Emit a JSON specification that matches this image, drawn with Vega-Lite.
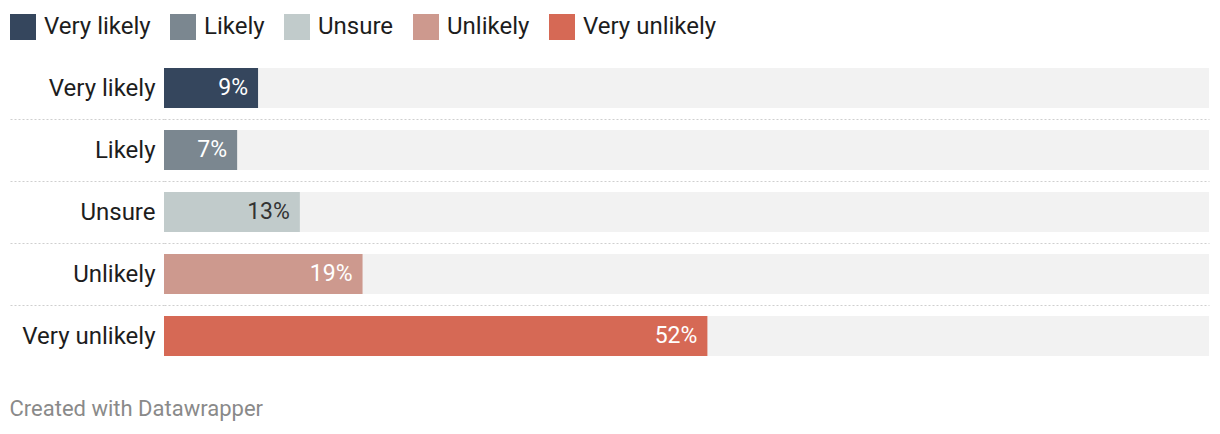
{
  "$schema": "https://vega.github.io/schema/vega-lite/v6.json",
  "width": 1045,
  "height": 310,
  "autosize": {"type": "none"},
  "padding": {"left": 164, "top": 57, "right": 11, "bottom": 67},
  "background": "white",
  "config": {
    "font": "Roboto",
    "view": {"stroke": null}
  },
  "title": {
    "text": "Created with Datawrapper",
    "orient": "bottom",
    "anchor": "start",
    "frame": "bounds",
    "offset": 32,
    "fontSize": 22,
    "fontWeight": "normal",
    "color": "#8a8a8a",
    "font": "Roboto"
  },
  "data": {
    "values": [
      {"answer": "Very likely", "pct": 9, "label": "9%"},
      {"answer": "Likely", "pct": 7, "label": "7%"},
      {"answer": "Unsure", "pct": 13, "label": "13%"},
      {"answer": "Unlikely", "pct": 19, "label": "19%"},
      {"answer": "Very unlikely", "pct": 52, "label": "52%"}
    ]
  },
  "encoding": {
    "y": {
      "field": "answer",
      "type": "nominal",
      "sort": ["Very likely", "Likely", "Unsure", "Unlikely", "Very unlikely"],
      "scale": {"paddingInner": 0.355, "paddingOuter": 0.1775},
      "axis": {
        "title": null,
        "domain": false,
        "ticks": true,
        "tickSize": 154,
        "tickColor": "#cfcfcf",
        "tickDash": [2, 2],
        "tickWidth": 1,
        "tickOffset": 31,
        "tickOpacity": {"condition": {"test": "datum.value === 'Very unlikely'", "value": 0}, "value": 1},
        "grid": true,
        "gridColor": "#cfcfcf",
        "gridDash": [2, 2],
        "gridWidth": 1,
        "gridOpacity": {"condition": {"test": "datum.value === 'Very unlikely'", "value": 0}, "value": 1},
        "labelOffset": -31,
        "labelPadding": -145,
        "labelFontSize": 24,
        "labelColor": "#1d1d1d",
        "labelFont": "Roboto",
        "labelLimit": 300
      }
    }
  },
  "layer": [
    {
      "mark": {"type": "bar", "color": "#f2f2f2"},
      "encoding": {
        "x": {"datum": 100, "type": "quantitative", "scale": {"domain": [0, 100]}, "axis": null}
      }
    },
    {
      "mark": {"type": "bar"},
      "encoding": {
        "x": {"field": "pct", "type": "quantitative", "scale": {"domain": [0, 100]}, "axis": null},
        "color": {
          "field": "answer",
          "type": "nominal",
          "scale": {
            "domain": ["Very likely", "Likely", "Unsure", "Unlikely", "Very unlikely"],
            "range": ["#35465d", "#7b8790", "#c1cbcb", "#cd998e", "#d66955"]
          },
          "legend": {
            "title": null,
            "orient": "none",
            "direction": "horizontal",
            "legendX": -154,
            "legendY": -43,
            "symbolType": "square",
            "symbolSize": 676,
            "symbolStrokeWidth": 0,
            "symbolOpacity": 1,
            "labelFontSize": 24,
            "labelColor": "#1d1d1d",
            "labelFont": "Roboto",
            "labelOffset": 8,
            "columnPadding": 19,
            "labelLimit": 300
          }
        }
      }
    },
    {
      "mark": {"type": "text", "align": "right", "baseline": "middle", "dx": -10, "fontSize": 23, "font": "Roboto"},
      "encoding": {
        "x": {"field": "pct", "type": "quantitative", "scale": {"domain": [0, 100]}, "axis": null},
        "text": {"field": "label"},
        "color": {
          "condition": {"test": "datum.answer === 'Unsure'", "value": "#333333"},
          "value": "#ffffff"
        }
      }
    }
  ]
}
